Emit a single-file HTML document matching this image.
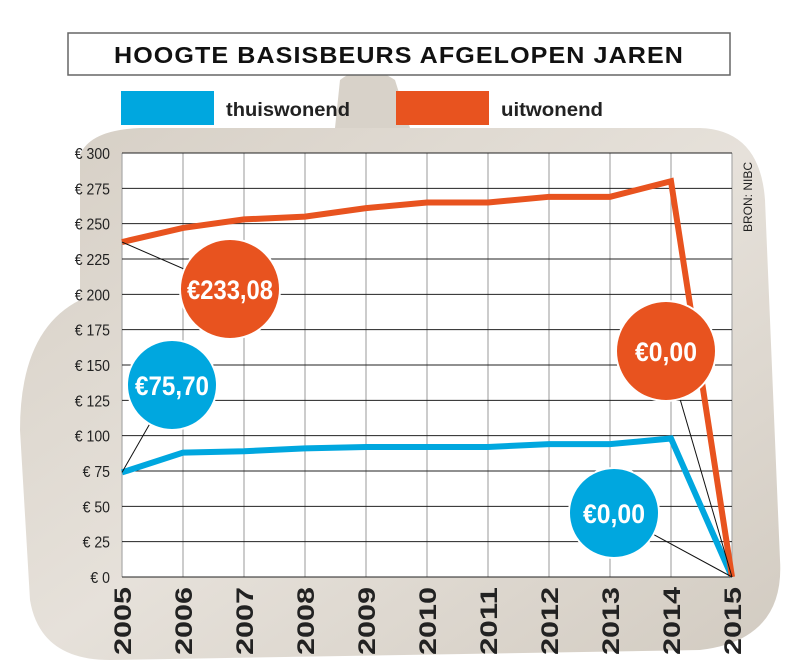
<!DOCTYPE html>
<html><head><meta charset="utf-8"><style>
body{margin:0;width:800px;height:666px;overflow:hidden;background:#fff;font-family:"Liberation Sans",sans-serif}
svg{display:block}
</style></head><body>
<svg id="chart" width="800" height="666" viewBox="0 0 800 666">
<defs>
<linearGradient id="purse" x1="0" y1="0" x2="1" y2="1">
<stop offset="0" stop-color="#d6cfc5"/><stop offset="0.5" stop-color="#e6e1da"/><stop offset="1" stop-color="#d2cbc1"/>
</linearGradient>
</defs>
<g>
<path d="M80 155 Q90 130 140 128 L700 128 Q760 130 765 200 L780 560 Q785 640 700 650 L110 660 Q40 660 30 600 L20 430 Q20 330 80 300 Z" fill="url(#purse)"/>
<path d="M340 80 Q365 60 395 80 L410 128 L335 128 Z" fill="#a89c88" opacity="0.45"/>
</g>
<rect x="68" y="33" width="662" height="42" fill="#fff" stroke="#666" stroke-width="1.5"/>
<text x="399" y="63" text-anchor="middle" font-size="23" font-weight="bold" letter-spacing="1" fill="#111" textLength="570" lengthAdjust="spacingAndGlyphs">HOOGTE BASISBEURS AFGELOPEN JAREN</text>
<g>
<rect x="121" y="91" width="93" height="34" fill="#00a7df"/>
<text x="226" y="116" font-size="19" font-weight="bold" fill="#222" textLength="124" lengthAdjust="spacingAndGlyphs">thuiswonend</text>
<rect x="396" y="91" width="93" height="34" fill="#e8531f"/>
<text x="501" y="116" font-size="19" font-weight="bold" fill="#222" textLength="102" lengthAdjust="spacingAndGlyphs">uitwonend</text>
</g>
<rect x="122" y="153" width="610" height="424" fill="#fff"/>
<g id="grid"></g>
<g id="lines"></g>
<g id="labels"></g>
<text transform="translate(752,232) rotate(-90)" font-size="12" fill="#222">BRON: NIBC</text>
</svg>
<script>
const years=["2005","2006","2007","2008","2009","2010","2011","2012","2013","2014","2015"];
const thuiswonend=[74,88,89,91,92,92,92,94,94,98,0];
const uitwonend=[237,247,253,255,261,265,265,269,269,280,0];
const yTicks=[0,25,50,75,100,125,150,175,200,225,250,275,300];
const yTickLabels=["€ 0","€ 25","€ 50","€ 75","€ 100","€ 125","€ 150","€ 175","€ 200","€ 225","€ 250","€ 275","€ 300"];
const NS="http://www.w3.org/2000/svg";
const X0=122,X1=732,Y0=577,Y1=153;
function xs(i){return X0+(X1-X0)*i/(years.length-1);}
function ys(v){return Y0-(Y0-Y1)*v/300;}
function mk(tag,attrs,parent){const e=document.createElementNS(NS,tag);for(const k in attrs)e.setAttribute(k,attrs[k]);parent.appendChild(e);return e;}
const grid=document.getElementById('grid');
years.forEach((y,i)=>{
  const l=mk('line',{x1:xs(i),x2:xs(i),y1:Y1,y2:Y0,stroke:'#aaa','stroke-width':1.2},grid);
  
  
  const t=mk('text',{transform:`translate(${xs(i)+9},${Y0+78}) rotate(-90)`,'font-size':24,'font-weight':'bold',fill:'#222',textLength:68,lengthAdjust:'spacingAndGlyphs'},grid);
  t.textContent=y;
  
  
});
yTicks.forEach((v,i)=>{
  const l=mk('line',{x1:X0,x2:X1,y1:ys(v),y2:ys(v),stroke:'#222','stroke-width':1},grid);
  
  
  const t=mk('text',{x:X0-12,y:ys(v)+6,'text-anchor':'end','font-size':16,fill:'#222',transform:`translate(${(X0-12)*0.12},0) scale(0.88,1)`},grid);
  t.textContent=yTickLabels[i];
  
  
});
const lines=document.getElementById('lines');
function series(data,color,name){
  const p=mk('polyline',{points:data.map((v,i)=>xs(i)+','+ys(v)).join(' '),fill:'none',stroke:color,'stroke-width':6,'stroke-linejoin':'miter'},lines);
  
  
}
series(thuiswonend,'#00a7df','line-thuiswonend');
series(uitwonend,'#e8531f','line-uitwonend');
const labels=document.getElementById('labels');
function bubble(cx,cy,r,color,text,px,py,name,tl){
  const l=mk('line',{x1:cx,y1:cy,x2:px,y2:py,stroke:'#111','stroke-width':1},labels);
  
  
  const c=mk('circle',{cx:cx,cy:cy,r:r,fill:color,stroke:'#fff','stroke-width':2},labels);
  
  
  const t=mk('text',{x:cx,y:cy+10,'text-anchor':'middle','font-size':27,'font-weight':'bold',fill:'#fff',textLength:tl,lengthAdjust:'spacingAndGlyphs'},labels);
  t.textContent=text;
  
  
}
bubble(230,289,50,'#e8531f','€233,08',xs(0),ys(uitwonend[0]),'bubble-uitwonend-2005',86);
bubble(172,385,45,'#00a7df','€75,70',xs(0),ys(thuiswonend[0]),'bubble-thuiswonend-2005',74);
bubble(666,351,50,'#e8531f','€0,00',xs(10),ys(0),'bubble-uitwonend-2015',62);
bubble(614,513,45,'#00a7df','€0,00',xs(10),ys(0),'bubble-thuiswonend-2015',62);
</script>
</body></html>
